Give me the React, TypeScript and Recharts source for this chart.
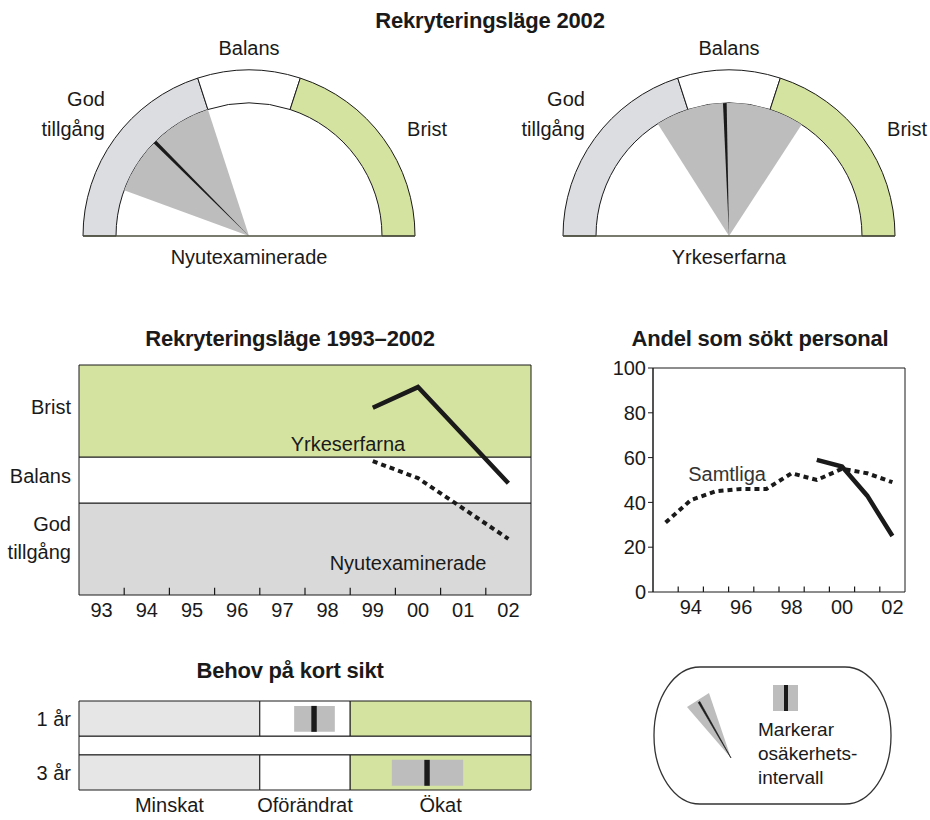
import React from 'react';
import {
  PieChart, Pie, Cell, LineChart, Line, ComposedChart, XAxis, YAxis,
  ReferenceArea, ReferenceLine, ReferenceDot,
} from 'recharts';

const FONT = '"Liberation Sans", Arial, Helvetica, sans-serif';
const INK = '#1a1a1a';
const GREEN = '#d5e3a0';
const GREY_GAUGE = '#dcdde0';
const GREY_BAND = '#d9d9d9';
const GREY_NEED = '#e6e6e6';
const GREY_CI = '#bdbdbd';

// common scale: 0-2 god tillgång, 2-3 balans, 3-5 brist
const levelNames = ['God tillgång', 'Balans', 'Brist'];
const levelWidths = [2, 1, 2];

// gauges 2002
const gaugeNames = ['Nyutexaminerade', 'Yrkeserfarna'];
const gaugeValue = [1.25, 2.45];
const gaugeLow = [0.56, 1.6];
const gaugeHigh = [2.0, 3.42];

// rekryteringsläge 1993-2002
const years = [93, 94, 95, 96, 97, 98, 99, 100, 101, 102];
const trendYrkeserfarna = [null, null, null, null, null, null, 4.07, 4.52, null, 2.43];
const trendNyutex = [null, null, null, null, null, null, 2.91, 2.54, null, 1.22];

// andel som sökt personal (%)
const soughtSamtliga = [31, 41, 45, 46, 46, 53, 50, 55, 53, 49];
const soughtYrkes = [null, null, null, null, null, null, 59, 56, 43, 25];
const soughtTicks = [0, 20, 40, 60, 80, 100];
const soughtLabelYears = [94, 96, 98, 100, 102];

// behov på kort sikt
const needRows = ['1 år', '3 år'];
const needNames = ['Minskat', 'Oförändrat', 'Ökat'];
const needValue = [2.6, 3.85];
const needLow = [2.38, 3.46];
const needHigh = [2.83, 4.25];

const LEVEL_TOTAL = levelWidths.reduce((a, b) => a + b, 0);
let acc = 0;
const levelRanges = levelWidths.map((w) => {
  const r = [acc, acc + w];
  acc += w;
  return r;
});
const levelMids = levelRanges.map(([a, b]) => (a + b) / 2);
const yearBounds = years.slice(0, -1).map((y) => y + 0.5);
const fmtYear = (v: number) => String(v % 100).padStart(2, '0');

const titleStyle = (cx: number, top: number, w = 400): React.CSSProperties => ({
  position: 'absolute', left: cx - w / 2, top, width: w, textAlign: 'center',
  fontSize: 22, lineHeight: '26px', fontWeight: 'bold', letterSpacing: -0.2,
});

function renderGaugeLabel(p: any) {
  const RAD = Math.PI / 180;
  const r = p.outerRadius + 22;
  const c = Math.cos(p.midAngle * RAD);
  const x = p.cx + r * c + (c > 0.3 ? 6 : c < -0.3 ? 8 : 0);
  const y = p.cy - r * Math.sin(p.midAngle * RAD);
  const anchor = Math.abs(c) < 0.3 ? 'middle' : c > 0 ? 'start' : 'end';
  const lines = String(p.name ?? p.payload?.name).split(' ');
  const first = lines.length > 1 ? y - 26 : anchor === 'middle' ? y : y + 4;
  return (
    <text textAnchor={anchor} fill={INK} fontSize={20}>
      {lines.map((l, i) => (
        <tspan key={i} x={x} y={first + i * 30 + 7}>{l}</tspan>
      ))}
    </text>
  );
}

function Gauge({ index, centerX }: { index: number; centerX: number }) {
  const W = 480, H = 270, cx = 240, cy = 236, outer = 166, inner = 133;
  const levelData = levelNames.map((name, i) => ({ name, value: levelWidths[i] }));
  const low = gaugeLow[index], high = gaugeHigh[index], v = gaugeValue[index];
  const ciData = [{ value: low }, { value: high - low }, { value: LEVEL_TOTAL - high }];
  const needleData = [{ value: v - 0.022 }, { value: 0.044 }, { value: LEVEL_TOTAL - v - 0.022 }];
  const levelColors = [GREY_GAUGE, '#ffffff', GREEN];
  return (
    <div style={{ position: 'absolute', left: centerX - cx, top: 0, width: W, height: H }}>
      <PieChart width={W} height={H} margin={{ top: 0, right: 0, bottom: 0, left: 0 }}>
        <Pie data={levelData} dataKey="value" nameKey="name" cx={cx} cy={cy}
          startAngle={180} endAngle={0} innerRadius={inner} outerRadius={outer}
          stroke={INK} strokeWidth={1} label={renderGaugeLabel} labelLine={false}
          isAnimationActive={false}>
          {levelData.map((d, i) => <Cell key={d.name} fill={levelColors[i]} />)}
        </Pie>
        <Pie data={ciData} dataKey="value" cx={cx} cy={cy} startAngle={180} endAngle={0}
          innerRadius={0} outerRadius={inner} stroke="none" isAnimationActive={false}>
          {ciData.map((d, i) => <Cell key={i} fill={i === 1 ? GREY_CI : 'none'} />)}
        </Pie>
        <Pie data={needleData} dataKey="value" cx={cx} cy={cy} startAngle={180} endAngle={0}
          innerRadius={0} outerRadius={inner} stroke="none" isAnimationActive={false}>
          {needleData.map((d, i) => <Cell key={i} fill={i === 1 ? INK : 'none'} />)}
        </Pie>
      </PieChart>
      <svg width={W} height={H} style={{ position: 'absolute', left: 0, top: 0, pointerEvents: 'none' }}>
        <line x1={cx - outer} x2={cx + outer} y1={cy} y2={cy} stroke="#4d4f3b" strokeWidth={1.6} />
        <text x={cx} y={cy + 28} textAnchor="middle" fill={INK} fontSize={20}>{gaugeNames[index]}</text>
      </svg>
    </div>
  );
}

function LevelTick(props: any) {
  const { x, y, payload } = props;
  const idx = levelMids.indexOf(payload.value);
  const lines = levelNames[idx].split(' ');
  const first = y - 4 - 21 * (lines.length - 1);
  return (
    <text textAnchor="end" fill={INK} fontSize={20}>
      {lines.map((l, i) => (
        <tspan key={i} x={x} y={first + i * 28 + 7}>{l}</tspan>
      ))}
    </text>
  );
}

function TrendChart() {
  const data = years.map((y, i) => ({ year: y, yrk: trendYrkeserfarna[i], nyu: trendNyutex[i] }));
  const bandColors = [GREY_BAND, '#ffffff', GREEN];
  return (
    <div style={{ position: 'absolute', left: 0, top: 360 }}>
      <LineChart width={545} height={270} data={data} margin={{ top: 5, right: 14, bottom: 0, left: 0 }}>
        <XAxis dataKey="year" type="number" domain={[92.5, 102.5]} ticks={years} interval={0}
          tickFormatter={fmtYear} axisLine={false} tickLine={false} height={35}
          tick={{ fill: INK, fontSize: 20 }} />
        <YAxis type="number" domain={[0, LEVEL_TOTAL]} ticks={levelMids} interval={0} width={79}
          axisLine={false} tickLine={false} tick={<LevelTick />} />
        {levelRanges.map(([a, b], i) => (
          <ReferenceArea key={i} x1={92.5} x2={102.5} y1={a} y2={b} fill={bandColors[i]}
            fillOpacity={1} stroke={INK} strokeWidth={1} ifOverflow="visible" />
        ))}
        {yearBounds.map((b) => (
          <ReferenceLine key={b} segment={[{ x: b, y: 0 }, { x: b, y: 0.16 }]} stroke={INK}
            strokeWidth={1.2} ifOverflow="visible" />
        ))}
        <ReferenceDot x={98.45} y={3.28} r={0} fill="none" stroke="none" ifOverflow="visible"
          label={{ value: 'Yrkeserfarna', position: 'center', fill: INK, fontSize: 20 }} />
        <ReferenceDot x={99.78} y={0.7} r={0} fill="none" stroke="none" ifOverflow="visible"
          label={{ value: 'Nyutexaminerade', position: 'center', fill: INK, fontSize: 20 }} />
        <Line dataKey="yrk" type="linear" stroke={INK} strokeWidth={4.5} dot={false}
          connectNulls isAnimationActive={false} />
        <Line dataKey="nyu" type="linear" stroke={INK} strokeWidth={4} strokeDasharray="5 4"
          dot={false} connectNulls isAnimationActive={false} />
      </LineChart>
    </div>
  );
}

function SoughtChart() {
  const data = years.map((y, i) => ({ year: y, samtliga: soughtSamtliga[i], yrk: soughtYrkes[i] }));
  return (
    <div style={{ position: 'absolute', left: 600, top: 358 }}>
      <LineChart width={320} height={269} data={data} margin={{ top: 10, right: 15, bottom: 0, left: 0 }}>
        <XAxis dataKey="year" type="number" domain={[92.5, 102.5]} ticks={soughtLabelYears}
          interval={0} tickFormatter={fmtYear} axisLine={false} tickLine={false} height={35}
          tick={{ fill: INK, fontSize: 20 }} />
        <YAxis type="number" domain={[0, 100]} ticks={soughtTicks} interval={0} width={53}
          axisLine={{ stroke: INK }} tickLine={{ stroke: INK }} tickSize={5}
          tick={{ fill: INK, fontSize: 20 }} />
        <ReferenceArea x1={92.5} x2={102.5} y1={0} y2={100} fill="none" stroke={INK}
          strokeWidth={1} ifOverflow="visible" />
        {yearBounds.map((b) => (
          <ReferenceLine key={b} segment={[{ x: b, y: 0 }, { x: b, y: 2.5 }]} stroke={INK}
            strokeWidth={1.2} ifOverflow="visible" />
        ))}
        <ReferenceDot x={95.44} y={52.7} r={0} fill="none" stroke="none" ifOverflow="visible"
          label={{ value: 'Samtliga', position: 'center', fill: '#333', fontSize: 20 }} />
        <Line dataKey="samtliga" type="linear" stroke={INK} strokeWidth={4} strokeDasharray="5 4"
          dot={false} connectNulls isAnimationActive={false} />
        <Line dataKey="yrk" type="linear" stroke={INK} strokeWidth={4.5} dot={false}
          connectNulls isAnimationActive={false} />
      </LineChart>
    </div>
  );
}

function NeedChart() {
  const GAP = 0.54;
  const rowTop = needRows.map((_, i) => i * (1 + GAP));
  const span = needRows.length + GAP * (needRows.length - 1);
  const segColors = [GREY_NEED, '#ffffff', GREEN];
  const data = needRows.map((row, i) => ({ row, pos: rowTop[i] + 0.5, value: needValue[i] }));
  return (
    <div style={{ position: 'absolute', left: 0, top: 691 }}>
      <ComposedChart width={545} height={129} data={data} margin={{ top: 10, right: 14, bottom: 0, left: 0 }}>
        <XAxis type="number" dataKey="value" domain={[0, LEVEL_TOTAL]} ticks={levelMids} interval={0}
          tickFormatter={(v: number) => needNames[levelMids.indexOf(v)]} axisLine={false}
          tickLine={false} tickMargin={2} height={30} tick={{ fill: INK, fontSize: 20 }} />
        <YAxis type="number" dataKey="pos" domain={[0, span]} reversed ticks={rowTop.map((t) => t + 0.5)}
          interval={0} tickFormatter={(v: number) => needRows[rowTop.indexOf(v - 0.5)]}
          axisLine={false} tickLine={false} width={79} tick={{ fill: INK, fontSize: 20 }} />
        {needRows.slice(1).map((_, i) => (
          <ReferenceArea key={`gap${i}`} x1={0} x2={LEVEL_TOTAL} y1={rowTop[i] + 1} y2={rowTop[i + 1]}
            fill="#ffffff" fillOpacity={1} stroke={INK} strokeWidth={1} ifOverflow="visible" />
        ))}
        {needRows.map((row, r) =>
          levelRanges.map(([a, b], i) => (
            <ReferenceArea key={`${row}${i}`} x1={a} x2={b} y1={rowTop[r]} y2={rowTop[r] + 1}
              fill={segColors[i]} fillOpacity={1} stroke={INK} strokeWidth={1} ifOverflow="visible" />
          ))
        )}
        {needRows.map((row, r) => (
          <ReferenceArea key={`ci${row}`} x1={needLow[r]} x2={needHigh[r]} y1={rowTop[r] + 0.14}
            y2={rowTop[r] + 0.88} fill={GREY_CI} fillOpacity={1} stroke="none" ifOverflow="visible" />
        ))}
        {needRows.map((row, r) => (
          <ReferenceArea key={`v${row}`} x1={needValue[r] - 0.03} x2={needValue[r] + 0.03}
            y1={rowTop[r] + 0.14} y2={rowTop[r] + 0.88} fill={INK} fillOpacity={1} stroke="none"
            ifOverflow="visible" />
        ))}
      </ComposedChart>
    </div>
  );
}

function UncertaintyLegend() {
  return (
    <svg width={270} height={170} style={{ position: 'absolute', left: 640, top: 650 }}>
      <rect x={14} y={17} width={237} height={137} rx={46} ry={68} fill="#fff" stroke="#333" strokeWidth={1.3} />
      <polygon points="91,108 47,57 69,43" fill={GREY_CI} />
      <polygon points="91,108 58.2,52.6 59.8,51.4" fill={INK} stroke={INK} strokeWidth={0.6} />
      <rect x={133} y={35} width={25} height={26} fill={GREY_CI} />
      <rect x={144} y={35} width={4} height={26} fill={INK} />
      <text x={118} fill={INK} fontSize={19}>
        <tspan x={118} y={86}>Markerar</tspan>
        <tspan x={118} y={110}>osäkerhets-</tspan>
        <tspan x={118} y={134}>intervall</tspan>
      </text>
    </svg>
  );
}

export default function App() {
  return (
    <div style={{ position: 'absolute', left: 0, top: 0, width: 930, height: 820, background: '#fff',
      fontFamily: FONT, color: INK, overflow: 'hidden' }}>
      <div style={titleStyle(490, 8)}>Rekryteringsläge 2002</div>
      <Gauge index={0} centerX={249} />
      <Gauge index={1} centerX={729} />
      <div style={titleStyle(290, 326)}>Rekryteringsläge 1993–2002</div>
      <TrendChart />
      <div style={titleStyle(760, 326, 320)}>Andel som sökt personal</div>
      <SoughtChart />
      <div style={titleStyle(290, 658)}>Behov på kort sikt</div>
      <NeedChart />
      <UncertaintyLegend />
    </div>
  );
}
